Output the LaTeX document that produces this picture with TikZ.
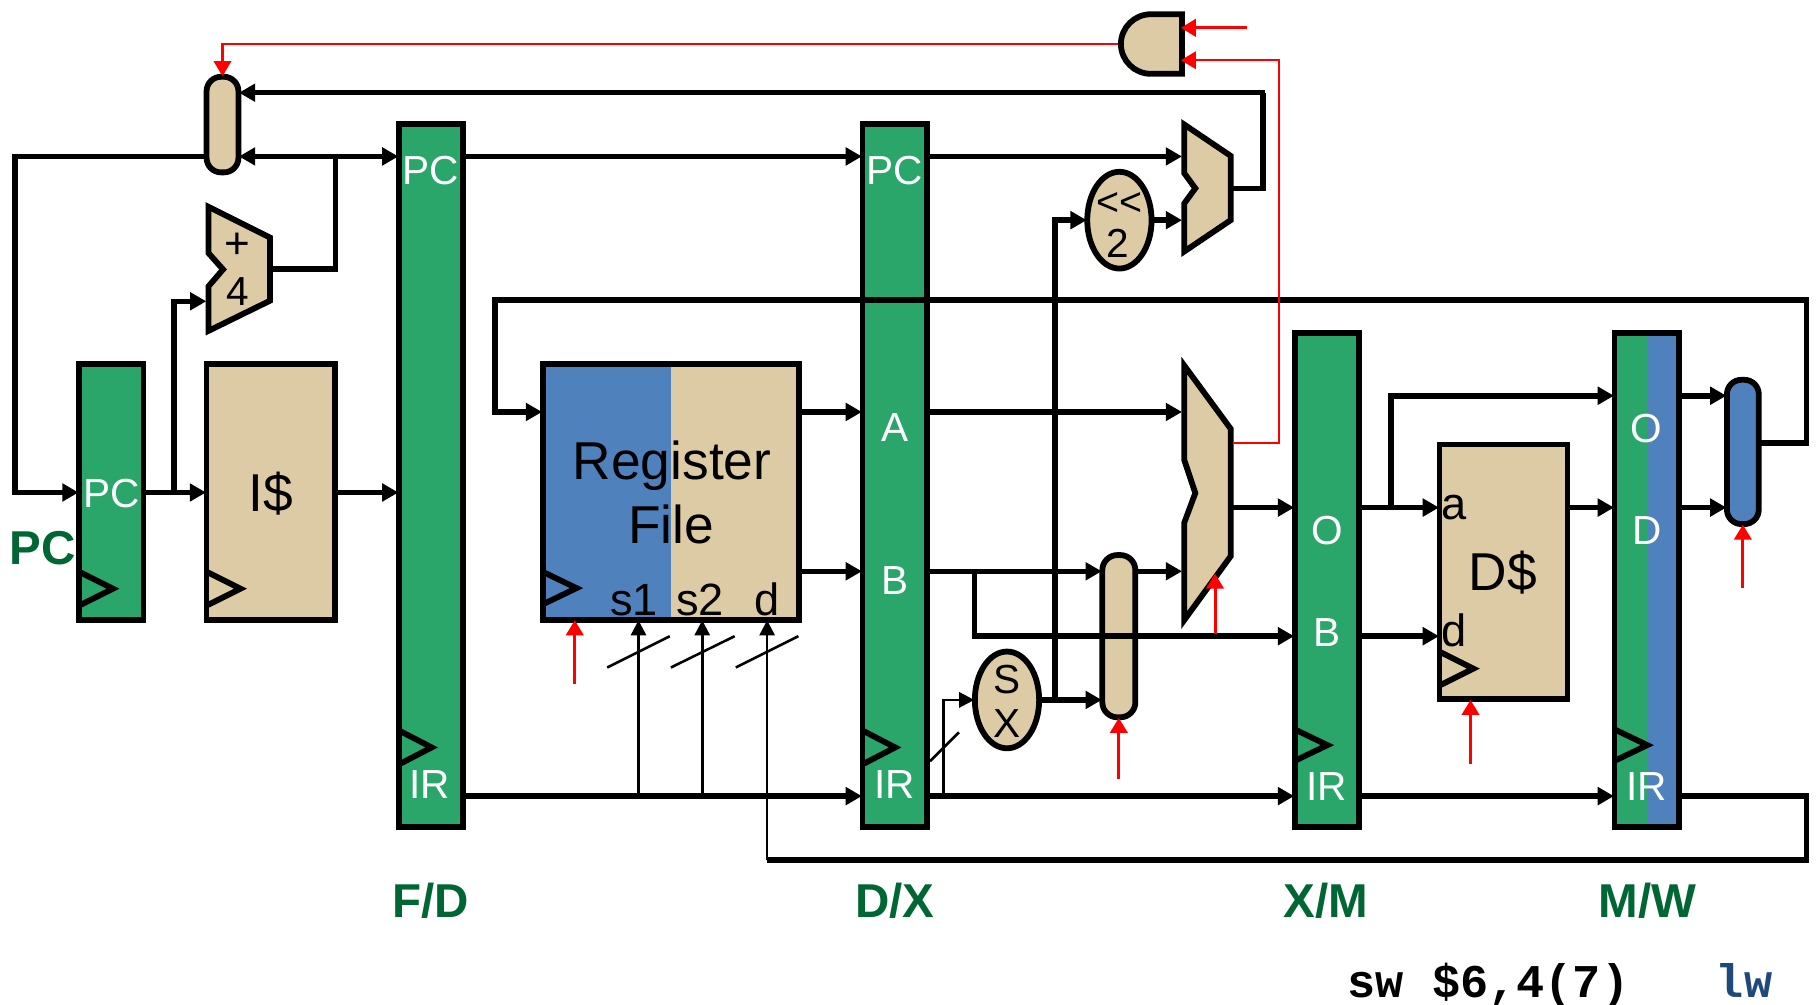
\documentclass[tikz,border=0pt]{standalone}
\usepackage{fontspec}
\setmainfont{Liberation Sans}
\newfontfamily\monof{Liberation Mono}
\usetikzlibrary{arrows.meta,shapes.geometric,calc}
\definecolor{rgreen}{HTML}{2AA66A}
\definecolor{rtan}{HTML}{DDCBA5}
\definecolor{rblue}{HTML}{4F81BD}
\definecolor{lgreen}{HTML}{006633}
\definecolor{lblue}{HTML}{1F497D}
\definecolor{rred}{HTML}{FF0000}
\tikzset{
  x=1pt,y=-1pt,
  line join=round,
  block/.style={draw=black,line width=5pt,inner sep=0pt,outer sep=0.5\pgflinewidth},
  latch/.style={block,fill=rgreen},
  unit/.style={block,fill=rtan},
  wire/.style={draw=black,line width=4.8pt,shorten >=-2pt,shorten <=-2pt,-{Triangle[length=14pt,width=15pt]}},
  plain/.style={draw=black,line width=4.8pt,shorten <=-2pt},
  both/.style={draw=black,line width=4.8pt,shorten >=-2pt,shorten <=-2pt,{Triangle[length=14pt,width=15pt]}-{Triangle[length=14pt,width=15pt]}},
  thinw/.style={draw=black,line width=2.2pt,shorten >=-2pt,-{Triangle[length=13pt,width=13pt]}},
  slash/.style={draw=black,line width=2.2pt},
  ctl/.style={draw=rred,line width=2.6pt,shorten >=-2pt,-{Triangle[length=13pt,width=15pt]}},
  ctlthin/.style={draw=rred,line width=2pt,shorten >=-2pt,-{Triangle[length=13pt,width=15pt]}},
  clk/.style={draw=black,line width=5pt,line join=miter},
  shp/.style={draw=black,line width=5pt,fill=rtan},
  wl/.style={text=white,font=\fontsize{35}{35}\selectfont,inner sep=0pt},
  kl/.style={text=black,font=\fontsize{35}{35}\selectfont,inner sep=0pt},
  pl/.style={text=black,font=\fontsize{39}{39}\selectfont,inner sep=0pt,anchor=base},
  bl/.style={text=black,font=\fontsize{46}{46}\selectfont,inner sep=0pt},
  gl/.style={text=lgreen,font=\fontsize{41}{41}\selectfont\bfseries,inner sep=0pt},
  ml/.style={font=\fontsize{40.5}{40.5}\selectfont\monof\bfseries,inner sep=0pt},
}
\begin{document}
\begin{tikzpicture}
\path[use as bounding box,fill=white] (0,0) rectangle (1568,867);

% row and column levels
\coordinate (rTop) at (0,80);
\coordinate (rPC) at (0,135);
\coordinate (rMuxL) at (0,190);
\coordinate (rAdd) at (0,232);
\coordinate (rBack) at (0,259);
\coordinate (rAddIn) at (0,260);
\coordinate (rMO) at (0,341.5);
\coordinate (rA) at (0,355.5);
\coordinate (rI) at (0,425);
\coordinate (rO) at (0,438);
\coordinate (rB) at (0,493);
\coordinate (rXB) at (0,549);
\coordinate (rSX) at (0,604);
\coordinate (rIR) at (0,687);
\coordinate (rRet) at (0,742);
\coordinate (rAndOut) at (0,38);
\coordinate (rWB) at (0,382.5);
\coordinate (cLeft) at (13,0);
\coordinate (cFork) at (150,0);
\coordinate (cAddT) at (289.5,0);
\coordinate (cBack) at (1090,0);
\coordinate (cImm) at (910.5,0);
\coordinate (cB) at (841,0);
\coordinate (cThin) at (814,0);
\coordinate (cRed) at (1103.5,0);
\coordinate (cFw) at (1200.5,0);
\coordinate (cR) at (1559,0);
\coordinate (cRin) at (427,0);
\coordinate (cS1) at (551,0);
\coordinate (cS2) at (606,0);
\coordinate (cD) at (662,0);

% blocks
\node[latch,minimum width=55.5pt,minimum height=220.5pt] (pcr) at (96,424.5) {};
\node[unit,minimum width=110.5pt,minimum height=220.5pt] (imem) at (233.5,424.5) {};
\node[latch,minimum width=55.5pt,minimum height=606.5pt] (fd) at (372,410.5) {};
\node[latch,minimum width=55.5pt,minimum height=606.5pt] (dx) at (772,410.5) {};
\node[latch,minimum width=55.5pt,minimum height=426.5pt] (xm) at (1145,500.5) {};
\node[block,fill=rblue,minimum width=55.5pt,minimum height=426.5pt,
  path picture={\fill[rgreen] (path picture bounding box.north west) rectangle (path picture bounding box.south);}] (mw) at (1421,500.5) {};
\node[block,fill=rtan,minimum width=221.5pt,minimum height=220.5pt,
  path picture={\fill[rblue] (path picture bounding box.north west) rectangle (path picture bounding box.south);}] (rf) at (579,424.5) {};
\node[unit,minimum width=110.5pt,minimum height=220pt] (dmem) at (1297.5,493.5) {};

% pills and ellipses
\node[unit,rounded corners=12.5pt,minimum width=27.5pt,minimum height=82.5pt] (pmux) at (192,107.5) {};
\node[unit,rounded corners=13pt,minimum width=28.5pt,minimum height=140pt] (bmux) at (965.5,549) {};
\node[block,fill=rblue,rounded corners=12.5pt,minimum width=27.5pt,minimum height=124.5pt] (wmux) at (1504,390) {};
\node[unit,ellipse,minimum width=55.5pt,minimum height=83.5pt] (shl) at (966,190) {};
\node[unit,ellipse,minimum width=55.5pt,minimum height=83.5pt] (sx) at (869,604) {};

% polygons
\coordinate (adderW) at (176,260);
\coordinate (adderE) at (235,232);
\draw[shp] (180,178.5) -- (233,205) -- (233,259.5) -- (180,285.5) -- (180,247) -- (192.5,232.5) -- (180,218.5) -- cycle;
\coordinate (bmW) at (1018,0);
\coordinate (bmE) at (1064,0);
\draw[shp] (1022,107.5) -- (1062,134.5) -- (1062,190) -- (1022,217) -- (1022,175.5) -- (1031.5,162.5) -- (1022,149.5) -- cycle;
\coordinate (aluW) at (1018,0);
\coordinate (aluE) at (1064,0);
\draw[shp] (1022,315.5) -- (1062,370) -- (1062,480) -- (1022,535) -- (1022,451) -- (1031.5,425.5) -- (1022,397) -- cycle;
\draw[shp] (1020,12.3) -- (993,12.3) .. controls (979,12.3) and (967.3,23.8) .. (967.3,38) .. controls (967.3,52.2) and (979,63.7) .. (993,63.7) -- (1020,63.7) -- cycle;
\coordinate (andE) at (1021,0);
\coordinate (andW) at (965,0);

% clock triangles
\draw[clk] (69.5,494) -- (97.5,508) -- (69.5,522);
\draw[clk] (179.5,494) -- (207.5,508) -- (179.5,522);
\draw[clk] (345.5,631) -- (372.5,645) -- (345.5,659);
\draw[clk] (745.5,631) -- (772.5,645) -- (745.5,659);
\draw[clk] (1118.5,630) -- (1145.5,643) -- (1118.5,656);
\draw[clk] (1394.5,630) -- (1421.5,643) -- (1394.5,656);
\draw[clk] (469.5,494) -- (497.5,507.5) -- (469.5,521);
\draw[clk] (1243.5,563) -- (1271.5,577) -- (1243.5,591);

% thick connectors
\draw[plain] (pmux.west |- rPC) -- (cLeft |- rPC) -- (cLeft |- rI);
\draw[wire] (cLeft |- rPC) -- (cLeft |- rI) -- (pcr.west |- rI);
\draw[wire] (pcr.east |- rI) -- (imem.west |- rI);
\draw[wire] (cFork |- rI) -- (cFork |- rAddIn) -- (adderW);
\draw[wire] (imem.east |- rI) -- (fd.west |- rI);
\draw[both] (pmux.east |- rPC) -- (fd.west |- rPC);
\draw[plain] (adderE) -- (cAddT |- rAdd) -- (cAddT |- rPC);
\draw[wire] (cBack |- rTop) -- (pmux.east |- rTop);
\draw[plain] (bmE |- 0,162.5) -- (cBack |- 0,162.5) -- (cBack |- rTop);
\draw[wire] (fd.east |- rPC) -- (dx.west |- rPC);
\draw[wire] (dx.east |- rPC) -- (bmW |- rPC);
\draw[wire] (shl.east |- rMuxL) -- (bmW |- rMuxL);
\draw[wire] (cImm |- rSX) -- (cImm |- shl.west) -- (shl.west);
\draw[wire] (rf.east |- rA) -- (dx.west |- rA);
\draw[wire] (rf.east |- rB) -- (dx.west |- rB);
\draw[wire] (dx.east |- rA) -- (aluW |- rA);
\draw[wire] (dx.east |- rB) -- (bmux.west |- rB);
\draw[wire] (bmux.east |- rB) -- (aluW |- rB);
\draw[wire] (sx.east |- rSX) -- (bmux.west |- rSX);
\draw[wire] (cB |- rB) -- (cB |- rXB) -- (xm.west |- rXB);
\draw[wire] (aluE |- rO) -- (xm.west |- rO);
\draw[wire] (xm.east |- rO) -- (dmem.west |- rO);
\draw[wire] (xm.east |- rXB) -- (dmem.west |- rXB);
\draw[wire] (cFw |- rO) -- (cFw |- rMO) -- (mw.west |- rMO);
\draw[wire] (dmem.east |- rO) -- (mw.west |- rO);
\draw[wire] (mw.east |- rMO) -- (wmux.west |- rMO);
\draw[wire] (mw.east |- rO) -- (wmux.west |- rO);
\draw[wire] (wmux.east |- rWB) -- (cR |- rWB) -- (cR |- rBack) -- (cRin |- rBack) -- (cRin |- rA) -- (rf.west |- rA);
\draw[wire] (fd.east |- rIR) -- (dx.west |- rIR);
\draw[wire] (dx.east |- rIR) -- (xm.west |- rIR);
\draw[wire] (xm.east |- rIR) -- (mw.west |- rIR);
\draw[plain] (mw.east |- rIR) -- (cR |- rIR) -- (cR |- rRet) -- (cD |- rRet);

% thin connectors
\draw[thinw] (cS1 |- rIR) -- (cS1 |- rf.south);
\draw[thinw] (cS2 |- rIR) -- (cS2 |- rf.south);
\draw[thinw] (cD |- rRet) -- (cD |- rf.south);
\draw[thinw] (cThin |- rIR) -- (cThin |- rSX) -- (sx.west |- rSX);
\coordinate (sa1) at (524,576); \coordinate (sb1) at (578,549);
\coordinate (sa2) at (579,576); \coordinate (sb2) at (634,549);
\coordinate (sa3) at (635,576); \coordinate (sb3) at (689,549);
\coordinate (sa4) at (802.5,657); \coordinate (sb4) at (827.5,632);
\draw[slash] (sa1) -- (sb1);
\draw[slash] (sa2) -- (sb2);
\draw[slash] (sa3) -- (sb3);
\draw[slash] (sa4) -- (sb4);

% control signals
\coordinate (rfCtl) at (496,590);
\coordinate (bmCtl) at (965.5,672);
\coordinate (aluCtl) at (1048.5,547);
\coordinate (aluCtlEnd) at (1048.5,497);
\coordinate (dmCtl) at (1269,659);
\coordinate (wmCtl) at (1504,507);
\coordinate (andCtl) at (1076,24);
\draw[ctl] (rfCtl) -- (rfCtl |- rf.south);
\draw[ctl] (bmCtl) -- (bmux.south);
\draw[ctl] (aluCtl) -- (aluCtlEnd);
\draw[ctl] (dmCtl) -- (dmCtl |- dmem.south);
\draw[ctl] (wmCtl) -- (wmux.south);
\draw[ctl] (andCtl) -- (andE |- andCtl);
\draw[ctlthin] (aluE |- rWB) -- (cRed |- rWB) -- (cRed |- 0,52) -- (andE |- 0,52);
\draw[ctlthin] (andW |- rAndOut) -- (pmux.north |- rAndOut) -- (pmux.north);

% labels in latches
\node[wl] (tPCr) at (96,426) {PC};
\node[wl] (tFDpc) at (372,147) {PC};
\node[wl] (tDXpc) at (772,147) {PC};
\node[wl] (tFDir) at (371,677) {IR};
\node[wl] (tDXa) at (772,369) {A};
\node[wl] (tDXb) at (772,501) {B};
\node[wl] (tDXir) at (772,677) {IR};
\node[wl] (tXMo) at (1145,458) {O};
\node[wl] (tXMb) at (1145,546) {B};
\node[wl] (tXMir) at (1145,679) {IR};
\node[wl] (tMWo) at (1421,370) {O};
\node[wl] (tMWd) at (1421,458) {D};
\node[wl] (tMWir) at (1421,679) {IR};

% labels in units
\node[bl] (tImem) at (234,426) {I\$};
\node[bl] (tDmem) at (1297,494) {D\$};
\node[bl] (tRf1) at (580,401.5) {Register};
\node[bl] (tRf2) at (579,453) {File};
\node[pl] (tS1) at (547,531) {s1};
\node[pl] (tS2) at (604,531) {s2};
\node[pl] (tD) at (662,531) {d};
\node[pl] (tA) at (1255,448) {a};
\node[pl] (tDd) at (1255,558) {d};
\node[kl,font=\fontsize{38}{38}\selectfont] (tPlus) at (205,212.5) {+};
\node[kl] (tFour) at (205,252) {4};
\node[kl,font=\fontsize{34}{34}\selectfont] (tShl) at (966,176) {<{}<};
\node[kl] (tTwo) at (965,210) {2};
\node[kl] (tSs) at (869,586) {S};
\node[kl] (tXx) at (869,624) {X};

% stage labels
\node[gl] (tPC) at (37,473) {PC};
\node[gl] (tFD) at (371.5,777) {F/D};
\node[gl] (tDX) at (772,777) {D/X};
\node[gl] (tXM) at (1144,777) {X/M};
\node[gl] (tMW) at (1421.5,777) {M/W};

% instructions
\node[ml,text=black,anchor=base] (tSw) at (1284.5,860.5) {sw \$6,4(7)};
\node[ml,text=lblue,anchor=base] (tLw) at (1505,860.5) {lw};
\end{tikzpicture}
\end{document}
